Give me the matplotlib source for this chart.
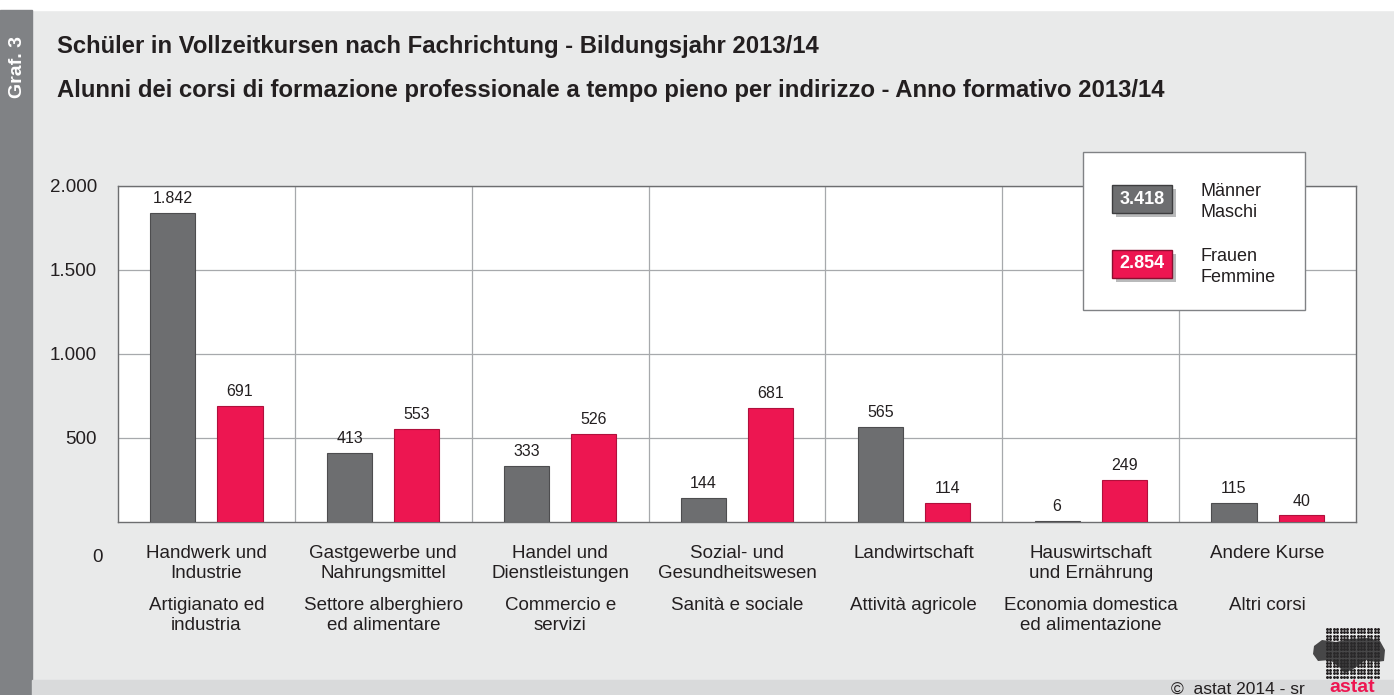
import numpy as np
import matplotlib.pyplot as plt
from matplotlib.patches import Rectangle, Polygon

plt.rcParams['font.family'] = ['Liberation Sans', 'DejaVu Sans']

categories_de = ["Handwerk und\nIndustrie", "Gastgewerbe und\nNahrungsmittel", "Handel und\nDienstleistungen",
                 "Sozial- und\nGesundheitswesen", "Landwirtschaft", "Hauswirtschaft\nund Ernährung", "Andere Kurse"]
categories_it = ["Artigianato ed\nindustria", "Settore alberghiero\ned alimentare", "Commercio e\nservizi",
                 "Sanità e sociale", "Attività agricole", "Economia domestica\ned alimentazione", "Altri corsi"]
maschi = [1842, 413, 333, 144, 565, 6, 115]
femmine = [691, 553, 526, 681, 114, 249, 40]
total_m = "3.418"
total_f = "2.854"
yticks = [500, 1000, 1500, 2000]

grey = "#6d6e70"
red = "#ed1651"
bg = "#e9eaea"
txt = "#231f20"

W, H = 1394, 695
fig = plt.figure(figsize=(W / 100, H / 100), dpi=100)
fig.patch.set_facecolor(bg)

def fx(px):
    return px / W

def fy(py):
    return 1 - py / H

# frame decorations
fig.add_artist(Rectangle((0, fy(10)), 1, 10 / H, transform=fig.transFigure, color="white", zorder=0))
fig.add_artist(Rectangle((0, 0), fx(32), fy(10), transform=fig.transFigure, color="#808285", zorder=1))
fig.add_artist(Rectangle((fx(32), 0), 1, 15 / H, transform=fig.transFigure, color="#d9dadb", zorder=1))
fig.text(fx(17), fy(67), "Graf. 3", rotation=90, color="white", fontsize=14, fontweight="bold",
         ha="center", va="center")

fig.text(fx(57), fy(47), "Schüler in Vollzeitkursen nach Fachrichtung - Bildungsjahr 2013/14",
         fontsize=17.2, fontweight="bold", color=txt, va="center")
fig.text(fx(57), fy(91), "Alunni dei corsi di formazione professionale a tempo pieno per indirizzo - Anno formativo 2013/14",
         fontsize=17.2, fontweight="bold", color=txt, va="center")

ax = fig.add_axes([fx(118), fy(522), fx(1356) - fx(118), fy(186) - fy(522)])
ax.set_facecolor("white")
n = len(maschi)
x = np.arange(n)
w = 0.255
off = 0.19
bm = ax.bar(x - off, maschi, w, color=grey, edgecolor="#4d4d4f", linewidth=0.8, zorder=3)
bf = ax.bar(x + off, femmine, w, color=red, edgecolor="#b0103c", linewidth=0.8, zorder=3)
for rects, vals in ((bm, maschi), (bf, femmine)):
    for r, v in zip(rects, vals):
        ax.text(r.get_x() + r.get_width() / 2, v + 40, f"{v:,}".replace(",", "."),
                ha="center", va="bottom", fontsize=11.5, color=txt)

ax.set_xlim(-0.5, n - 0.5)
ax.set_ylim(0, 2000)
ax.set_yticks(yticks)
ax.set_yticklabels([f"{v:,}".replace(",", ".") for v in yticks], fontsize=13.5, color=txt)
ax.tick_params(axis="y", length=0, pad=15)
ax.set_xticks([])
for y in yticks:
    ax.axhline(y, color="#a7a9ac", linewidth=0.9, zorder=1)
for i in range(1, n):
    ax.axvline(i - 0.5, color="#a7a9ac", linewidth=0.9, zorder=1)
for s in ax.spines.values():
    s.set_color("#6d6e70")
    s.set_linewidth(1.0)

# misplaced zero label as in original
fig.text(fx(103), fy(558), "0", ha="right", va="center", fontsize=13.5, color=txt)

for i in range(n):
    ax.text(i, -0.067, categories_de[i], transform=ax.get_xaxis_transform(), ha="center", va="top",
            fontsize=13.5, color=txt, linespacing=1.3)
    ax.text(i, -0.222, categories_it[i], transform=ax.get_xaxis_transform(), ha="center", va="top",
            fontsize=13.5, color=txt, linespacing=1.3)

# legend box
fig.add_artist(Rectangle((fx(1083), fy(310)), fx(1305) - fx(1083), fy(152) - fy(310),
                         transform=fig.transFigure, facecolor="white", edgecolor="#808285", linewidth=1, zorder=5))
for (ytop, col, ecol, num, lab) in ((185, grey, "#3d3d3f", total_m, "Männer\nMaschi"),
                                    (250, red, "#8a0f30", total_f, "Frauen\nFemmine")):
    fig.add_artist(Rectangle((fx(1116), fy(ytop + 32)), fx(60), 28 / H, transform=fig.transFigure,
                             facecolor="#b9babb", edgecolor="none", zorder=6))
    fig.add_artist(Rectangle((fx(1112), fy(ytop + 28)), fx(60), 28 / H, transform=fig.transFigure,
                             facecolor=col, edgecolor=ecol, linewidth=1, zorder=7))
    fig.text(fx(1142), fy(ytop + 14), num, ha="center", va="center", color="white",
             fontsize=13, fontweight="bold", zorder=8)
    fig.text(fx(1200), fy(ytop + 17), lab, ha="left", va="center", color=txt,
             fontsize=13, linespacing=1.3, zorder=8)

# astat logo: dot matrix with dark blob
gx, gy = np.meshgrid(np.arange(1327, 1379, 3.4), np.arange(629, 679, 3.4))
fig.add_artist(plt.Line2D(fx(gx.ravel()), fy(gy.ravel()), transform=fig.transFigure, linestyle="none",
                          marker="o", markersize=1.1, color="#231f20", zorder=3))
blob = [(1314, 646), (1322, 640), (1336, 642), (1350, 639), (1368, 638), (1380, 641), (1385, 650),
        (1384, 661), (1376, 662), (1365, 660), (1355, 668), (1345, 673), (1338, 666), (1330, 660),
        (1318, 661), (1313, 654)]
fig.add_artist(Polygon([(fx(a), fy(b)) for a, b in blob], closed=True, transform=fig.transFigure,
                       facecolor="#2b2a2b", edgecolor="none", alpha=0.85, zorder=4))
fig.text(fx(1305), fy(689), "©  astat 2014 - sr", ha="right", va="center", fontsize=12.5, color=txt)
fig.text(fx(1352), fy(688), "astat", ha="center", va="center", fontsize=14, fontweight="bold", color=red)

fig.savefig("out.png", dpi=100, facecolor=fig.get_facecolor())
